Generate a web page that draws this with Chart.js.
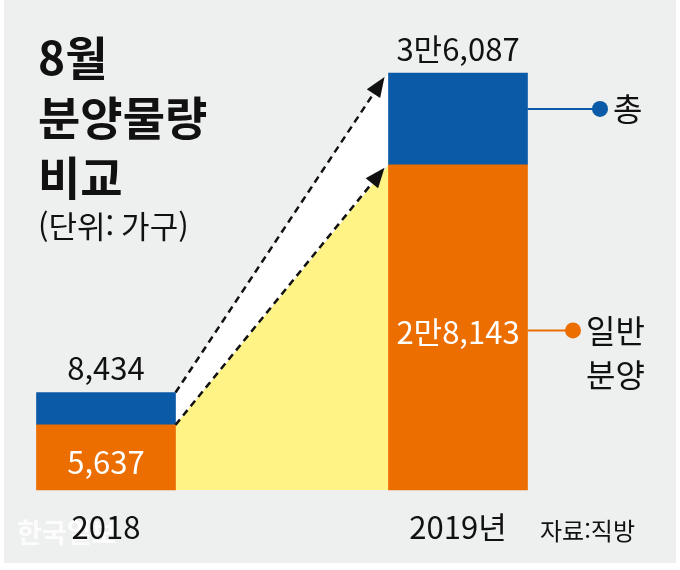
<!DOCTYPE html>
<html lang="ko">
<head>
<meta charset="utf-8">
<title>8월 분양물량 비교</title>
<script src="https://cdn.jsdelivr.net/npm/chart.js@4.4.1/dist/chart.umd.min.js"></script>
<style>
  html, body { margin: 0; padding: 0; background: #fff; }
  canvas { display: block; }
</style>
</head>
<body>
<canvas id="chart" width="680" height="570"></canvas>
<script>
// data (단위: 가구)
const years = ['2018', '2019년'];
const generalSupply = [5637, 28143];   // 일반 분양
const totalSupply = [8434, 36087];     // 총
const seriesNames = ['일반 분양', '총'];

const BLUE = '#0b5aa7';
const ORANGE = '#ec6d00';
const YELLOW = '#fff385';
const BG = '#eeefef';
const KR = '"Noto Sans CJK KR", "Noto Sans", sans-serif';

// the blue part sits on top of the orange one
const restSupply = totalSupply.map((t, i) => t - generalSupply[i]);

// 36087 -> "3만6,087"
function koNumber(v) {
  if (v < 10000) return v.toLocaleString('en-US');
  const man = Math.floor(v / 10000);
  const rest = v % 10000;
  return man + '만' + rest.toLocaleString('en-US');
}

// gray panel, title, notes
const backdrop = {
  id: 'backdrop',
  beforeDraw(chart) {
    const ctx = chart.ctx;
    ctx.save();
    ctx.fillStyle = '#fff';
    ctx.fillRect(0, 0, chart.width, chart.height);
    ctx.fillStyle = BG;
    ctx.fillRect(4, 0, 672, 563);

    ctx.fillStyle = '#111';
    ctx.textAlign = 'left';
    ctx.textBaseline = 'alphabetic';
    ctx.font = 'bold 46px ' + KR;
    ctx.fillText('8월', 38, 75);
    ctx.fillText('분양물량', 38, 135);
    ctx.fillText('비교', 38, 195);
    ctx.font = '31px ' + KR;
    ctx.fillText('(단위: 가구)', 38, 238);

    // watermark
    ctx.font = 'bold 27px ' + KR;
    ctx.fillStyle = 'rgba(255,255,255,0.8)';
    ctx.fillText('한국일보', 17, 543);

    ctx.fillStyle = '#111';
    ctx.font = '24px ' + KR;
    ctx.fillText('자료:직방', 540, 540);
    ctx.restore();
  }
};

// yellow / white bands between the bars and dashed arrows
const bridge = {
  id: 'bridge',
  beforeDatasetsDraw(chart) {
    const low = chart.getDatasetMeta(0).data;
    const high = chart.getDatasetMeta(1).data;
    const r0 = low[0].x + low[0].width / 2;
    const l1 = low[1].x - low[1].width / 2;
    const ctx = chart.ctx;
    ctx.save();
    ctx.fillStyle = YELLOW;
    ctx.beginPath();
    ctx.moveTo(r0, low[0].y);
    ctx.lineTo(l1, low[1].y);
    ctx.lineTo(l1, low[1].base);
    ctx.lineTo(r0, low[0].base);
    ctx.closePath();
    ctx.fill();
    ctx.fillStyle = '#fff';
    ctx.beginPath();
    ctx.moveTo(r0, high[0].y);
    ctx.lineTo(l1, high[1].y);
    ctx.lineTo(l1, low[1].y);
    ctx.lineTo(r0, low[0].y);
    ctx.closePath();
    ctx.fill();
    ctx.restore();
  },
  afterDatasetsDraw(chart) {
    const low = chart.getDatasetMeta(0).data;
    const high = chart.getDatasetMeta(1).data;
    const r0 = low[0].x + low[0].width / 2;
    const l1 = low[1].x - low[1].width / 2;
    const ctx = chart.ctx;
    const arrow = (x0, y0, x1, y1) => {
      const a = Math.atan2(y1 - y0, x1 - x0);
      const len = 20, half = 8;
      const bx = x1 - len * Math.cos(a), by = y1 - len * Math.sin(a);
      ctx.save();
      ctx.strokeStyle = '#111';
      ctx.lineWidth = 2.5;
      ctx.setLineDash([7, 5]);
      ctx.beginPath();
      ctx.moveTo(x0, y0);
      ctx.lineTo(bx, by);
      ctx.stroke();
      ctx.setLineDash([]);
      ctx.fillStyle = '#111';
      ctx.beginPath();
      ctx.moveTo(x1, y1);
      ctx.lineTo(bx + half * Math.sin(a), by - half * Math.cos(a));
      ctx.lineTo(bx - half * Math.sin(a), by + half * Math.cos(a));
      ctx.closePath();
      ctx.fill();
      ctx.restore();
    };
    arrow(r0, high[0].y, l1 - 4, high[1].y + 4);
    arrow(r0, low[0].y, l1 - 4, low[1].y + 3);
  }
};

// value labels, category labels and the side legend
const labels = {
  id: 'labels',
  afterDatasetsDraw(chart) {
    const low = chart.getDatasetMeta(0).data;
    const high = chart.getDatasetMeta(1).data;
    const ctx = chart.ctx;
    ctx.save();
    ctx.textAlign = 'center';
    ctx.textBaseline = 'middle';
    ctx.font = '31px ' + KR;
    low.forEach((bar, i) => {
      ctx.fillStyle = '#111';
      ctx.fillText(koNumber(totalSupply[i]), bar.x, high[i].y - 24);
      ctx.fillText(years[i], bar.x, bar.base + 37);
      ctx.fillStyle = '#fff';
      ctx.fillText(koNumber(generalSupply[i]), bar.x, (bar.y + bar.base) / 2 + 5);
    });

    // legend lines on the right of the 2019 bar
    const last = low.length - 1;
    const right = low[last].x + low[last].width / 2;
    const items = [
      { color: BLUE, y: (high[last].y + low[last].y) / 2 - 10, dot: 600, text: [seriesNames[1]] },
      { color: ORANGE, y: (low[last].y + low[last].base) / 2 + 3, dot: 573, text: seriesNames[0].split(' ') }
    ];
    items.forEach(it => {
      ctx.strokeStyle = it.color;
      ctx.fillStyle = it.color;
      ctx.lineWidth = 2;
      ctx.beginPath();
      ctx.moveTo(right, it.y);
      ctx.lineTo(it.dot, it.y);
      ctx.stroke();
      ctx.beginPath();
      ctx.arc(it.dot, it.y, 8, 0, Math.PI * 2);
      ctx.fill();
      ctx.fillStyle = '#111';
      ctx.textAlign = 'left';
      ctx.font = '32px ' + KR;
      it.text.forEach((t, k) => ctx.fillText(t, it.dot + 13, it.y + k * 44));
    });
    ctx.restore();
  }
};

new Chart(document.getElementById('chart'), {
  type: 'bar',
  data: {
    labels: years,
    datasets: [
      { label: seriesNames[0], data: generalSupply, backgroundColor: ORANGE, barThickness: 139, clip: false },
      { label: seriesNames[1], data: restSupply, backgroundColor: BLUE, barThickness: 139, clip: false }
    ]
  },
  options: {
    responsive: false,
    animation: false,
    layout: { padding: { left: 106, right: 222, top: 73, bottom: 80 } },
    plugins: { legend: { display: false }, tooltip: { enabled: false } },
    scales: {
      x: { stacked: true, offset: false, display: false },
      y: { stacked: true, display: false, min: 0, max: totalSupply[1] }
    }
  },
  plugins: [backdrop, bridge, labels]
});
</script>
</body>
</html>
